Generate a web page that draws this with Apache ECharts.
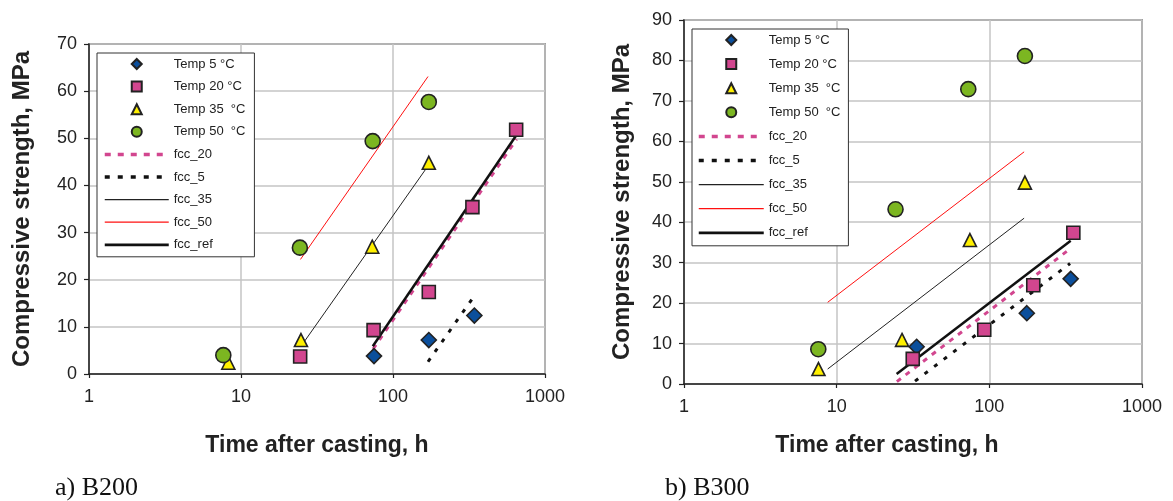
<!DOCTYPE html>
<html><head><meta charset="utf-8">
<script src="https://cdn.jsdelivr.net/npm/echarts@6/dist/echarts.min.js"></script>
<style>html,body{margin:0;padding:0;background:#fff}#c{width:1173px;height:501px}</style>
</head><body><div id="c"></div>
<script>
// ---------- data ----------
const seriesNames = ['Temp 5 °C', 'Temp 20 °C', 'Temp 35  °C', 'Temp 50  °C', 'fcc_20', 'fcc_5', 'fcc_35', 'fcc_50', 'fcc_ref'];
const xTicks = [1, 10, 100, 1000];
const xTitle = 'Time after casting, h';
const yTitle = 'Compressive strength, MPa';
const captionA = 'a) B200';
const captionB = 'b) B300';

// (a) B200
const t5A_x = [75, 172, 343];            const t5A_y = [3.8, 7.2, 12.4];
const t20A_x = [24.5, 74.5, 172, 333, 646]; const t20A_y = [3.7, 9.3, 17.4, 35.4, 51.8];
const t35A_x = [8.25, 24.8, 73, 172];    const t35A_y = [2.4, 7.2, 27, 44.8];
const t50A_x = [7.65, 24.4, 73.5, 172];  const t50A_y = [4.0, 26.8, 49.4, 57.7];
const fcc20A = [[74, 5.3], [650, 49.8]];
const fcc5A = [[170, 2.6], [343, 16.6]];
const fcc35A = [[26, 6.8], [168, 43.9]];
const fcc50A = [[24.6, 24.3], [170, 63.1]];
const fccRefA = [[73.6, 5.9], [646, 50.6]];

// (b) B300
const t5B_x = [33.4, 176, 341];          const t5B_y = [9.2, 17.5, 26.0];
const t20B_x = [31.5, 92.6, 194, 355];   const t20B_y = [6.2, 13.4, 24.4, 37.4];
const t35B_x = [7.6, 26.8, 74.6, 171];   const t35B_y = [3.7, 10.9, 35.6, 49.8];
const t50B_x = [7.58, 24.3, 72.8, 171];  const t50B_y = [8.6, 43.2, 72.9, 81.1];
const fcc20B = [[24.8, 0.6], [340, 33.5]];
const fcc5B = [[32.6, 0.7], [338, 29.8]];
const fcc35B = [[8.73, 3.7], [169, 41.0]];
const fcc50B = [[8.73, 20.2], [169, 57.4]];
const fccRefB = [[24.7, 2.5], [341, 35.4]];

// ---------- styles ----------
const FONT = 'Liberation Sans, Arial, sans-serif';
const markerStyles = [
  {symbol: 'diamond', size: 15, color: '#0b4f9c', icon: 'path://M5,0L10,5L5,10L0,5Z'},
  {symbol: 'rect', size: 13, color: '#d2468f', icon: 'path://M0,0L10,0L10,10L0,10Z'},
  {symbol: 'triangle', size: 13, color: '#fff000', icon: 'path://M5,0L10,10L0,10Z'},
  {symbol: 'circle', size: 15, color: '#7cb621', icon: 'circle'}
];
const lineStyles = [
  {color: '#d2468f', width: 3, type: [5, 6], legendType: [6, 7], legendWidth: 3.5},
  {color: '#111', width: 3, type: [4, 8], legendType: [5, 8], legendWidth: 3.5},
  {color: '#222', width: 1, type: 'solid', legendType: 'solid', legendWidth: 1.2},
  {color: '#ff1010', width: 1, type: 'solid', legendType: 'solid', legendWidth: 1.2},
  {color: '#111', width: 2.5, type: 'solid', legendType: 'solid', legendWidth: 2.8}
];

function pairs(xs, ys) { return xs.map((x, i) => [x, ys[i]]); }
function scatter(k, gi, xs, ys) {
  const s = markerStyles[k];
  return {
    type: 'scatter', name: seriesNames[k], xAxisIndex: gi, yAxisIndex: gi, z: 5,
    symbol: s.symbol, symbolSize: s.size, data: pairs(xs, ys),
    itemStyle: {color: s.color, borderColor: '#222', borderWidth: 1.6, opacity: 1},
    emphasis: {disabled: true}
  };
}
function line(k, gi, data) {
  const s = lineStyles[k];
  return {
    type: 'line', name: seriesNames[4 + k], xAxisIndex: gi, yAxisIndex: gi, z: 3,
    symbol: 'none', data: data, animation: false,
    lineStyle: {color: s.color, width: s.width, type: s.type},
    itemStyle: {color: s.color},
    emphasis: {disabled: true}
  };
}

const grids = [
  {left: 89, top: 44, width: 456, height: 330},
  {left: 684, top: 20, width: 458, height: 364}
];

function xAxis(gi, padR) {
  return {
    type: 'log', logBase: 10, min: xTicks[0], max: xTicks[xTicks.length - 1], gridIndex: gi,
    name: xTitle, nameLocation: 'middle', nameGap: gi === 0 ? 60 : 50,
    nameTextStyle: {fontFamily: FONT, fontSize: 23, fontWeight: 'bold', color: '#222', padding: [0, padR, 0, 0]},
    axisLine: {show: true, onZero: false, lineStyle: {color: '#222', width: 1.5}},
    axisTick: {show: true, length: 4, lineStyle: {color: '#222', width: 1.2}},
    minorTick: {show: false},
    axisLabel: {fontFamily: FONT, fontSize: 18, color: '#222', margin: 14,
      formatter: v => String(Math.round(v))},
    splitLine: {show: true, lineStyle: {color: '#c4c4c4', width: 1.5}}
  };
}
function yAxis(gi, max, gap) {
  return {
    type: 'value', min: 0, max: max, interval: 10, gridIndex: gi,
    name: yTitle, nameLocation: 'middle', nameGap: gap, nameRotate: 90,
    nameTextStyle: {fontFamily: FONT, fontSize: 24, fontWeight: 'bold', color: '#222'},
    axisLine: {show: true, lineStyle: {color: '#222', width: 1.5}},
    axisTick: {show: true, length: 5, lineStyle: {color: '#222', width: 1.2}},
    axisLabel: {fontFamily: FONT, fontSize: 18, color: '#222', margin: 12},
    splitLine: {show: true, lineStyle: {color: '#c4c4c4', width: 1.5}}
  };
}
const hiddenSymbol = {color: 'rgba(0,0,0,0)', borderColor: 'rgba(0,0,0,0)', borderWidth: 0};
function legendData() {
  return seriesNames.map((n, i) => i < 4
    ? {name: n, icon: markerStyles[i].icon}
    : {name: n, itemStyle: hiddenSymbol,
       lineStyle: {type: lineStyles[i - 4].legendType, width: lineStyles[i - 4].legendWidth}});
}
function legend(left, top, iw, gap, pad) {
  return {
    orient: 'vertical', left: left, top: top, itemWidth: iw, itemHeight: 10, itemGap: gap,
    padding: pad, backgroundColor: '#fff', borderColor: '#333', borderWidth: 1,
    selectedMode: false, z: 10, symbolKeepAspect: true,
    textStyle: {fontFamily: FONT, fontSize: 13, color: '#222', lineHeight: 14},
    data: legendData()
  };
}

const option = {
  animation: false,
  backgroundColor: '#fff',
  grid: grids.map(g => Object.assign({show: true, borderColor: '#555', borderWidth: 1.5, backgroundColor: 'transparent'}, g)),
  xAxis: [xAxis(0, 0), xAxis(1, 52)],
  yAxis: [yAxis(0, 70, 55), yAxis(1, 90, 50)],
  legend: [legend(97, 53, 64, 8.6, [4, 9, 5, 6]), legend(692, 29, 65, 10.1, [4, 8, 6, 5])],
  graphic: [
    {type: 'text', left: 55, top: 475, style: {text: captionA, font: '26px "Liberation Serif", "Times New Roman", serif', fill: '#111'}},
    {type: 'text', left: 665, top: 475, style: {text: captionB, font: '26px "Liberation Serif", "Times New Roman", serif', fill: '#111'}}
  ],
  series: [
    line(0, 0, fcc20A), line(1, 0, fcc5A), line(2, 0, fcc35A), line(3, 0, fcc50A), line(4, 0, fccRefA),
    scatter(0, 0, t5A_x, t5A_y), scatter(1, 0, t20A_x, t20A_y), scatter(2, 0, t35A_x, t35A_y), scatter(3, 0, t50A_x, t50A_y),
    line(0, 1, fcc20B), line(1, 1, fcc5B), line(2, 1, fcc35B), line(3, 1, fcc50B), line(4, 1, fccRefB),
    scatter(0, 1, t5B_x, t5B_y), scatter(1, 1, t20B_x, t20B_y), scatter(2, 1, t35B_x, t35B_y), scatter(3, 1, t50B_x, t50B_y)
  ]
};

const chart = echarts.init(document.getElementById('c'), null, {renderer: 'canvas'});
chart.setOption(option);
</script>
</body></html>
